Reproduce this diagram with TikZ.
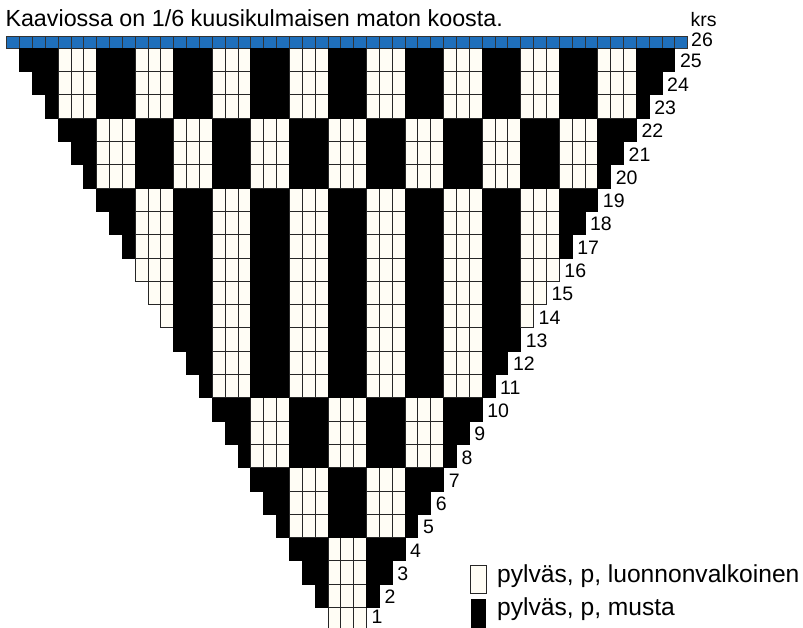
\documentclass[tikz,border=0pt]{standalone}
\usepackage{fontspec}
\setmainfont{Liberation Sans}
\definecolor{kerma}{RGB}{255,253,245}
\definecolor{sininen}{RGB}{31,111,187}
\begin{document}
\begin{tikzpicture}[x=1pt,y=-1pt,
  valk/.style={fill=kerma, draw=black!85, line width=0.9pt},
  musta/.style={fill=black, draw=black, line width=0.9pt},
  sin/.style={fill=sininen, draw=black!80, line width=0.9pt},
  lbl/.style={anchor=base west, inner sep=0pt, font=\fontsize{19.5}{22}\selectfont},
  sel/.style={anchor=base west, inner sep=0pt, font=\fontsize{24.6}{28}\selectfont}]
\useasboundingbox (0,0) rectangle (803,628);
\def\cellw{12.85}
\def\cellh{23.3}
% ylin kerros (26)
\foreach \j in {0,...,52}
  \draw[sin] ({6.7+\j*\cellw},36.7) rectangle ++(\cellw,11.6);
% kerrokset 25..1
\foreach \k in {1,...,25} {
  \pgfmathtruncatemacro\inv{(\k<5)||(\k>7&&\k<11)||(\k>19&&\k<23)}
  \pgfmathsetmacro\yt{48.3+(25-\k)*\cellh}
  \pgfmathtruncatemacro\ja{26-\k}
  \pgfmathtruncatemacro\jb{26+\k}
  \foreach \j in {\ja,...,\jb} {
    \pgfmathtruncatemacro\m{mod(floor((\j+2)/3)+\inv,2)}
    \ifnum\m=1
      \draw[musta] ({6.7+\j*\cellw},\yt) rectangle ++(\cellw,\cellh);
    \else
      \draw[valk] ({6.7+\j*\cellw},\yt) rectangle ++(\cellw,\cellh);
    \fi
  }
}
% kerrosnumerot
\foreach \k in {2,...,25}
  \node[lbl] (r\k) at ({347.2+(\k+0.5)*\cellw+5},{48.3+(25-\k)*\cellh+19.6}) {\k};
\node[lbl] (r1) at (371.5,623) {1};
\node[lbl] (r26) at (691,46.5) {26};
\node[lbl] (krs) at (690.4,26.7) {krs};
\node[anchor=base west, inner sep=0pt, font=\fontsize{23.3}{26}\selectfont] (otsikko) at (5.3,26.7) {Kaaviossa on 1/6 kuusikulmaisen maton koosta.};
% selitteet
\node[valk, minimum width=16pt, minimum height=28pt, inner sep=0pt] (ruutu1) at (478,579.5) {};
\node[musta, minimum width=14pt, minimum height=30pt, inner sep=0pt] (ruutu2) at (478.5,614) {};
\node[sel] (selite1) at (497,582) {pylväs, p, luonnonvalkoinen};
\node[sel] (selite2) at (497,615) {pylväs, p, musta};
\end{tikzpicture}
\end{document}
